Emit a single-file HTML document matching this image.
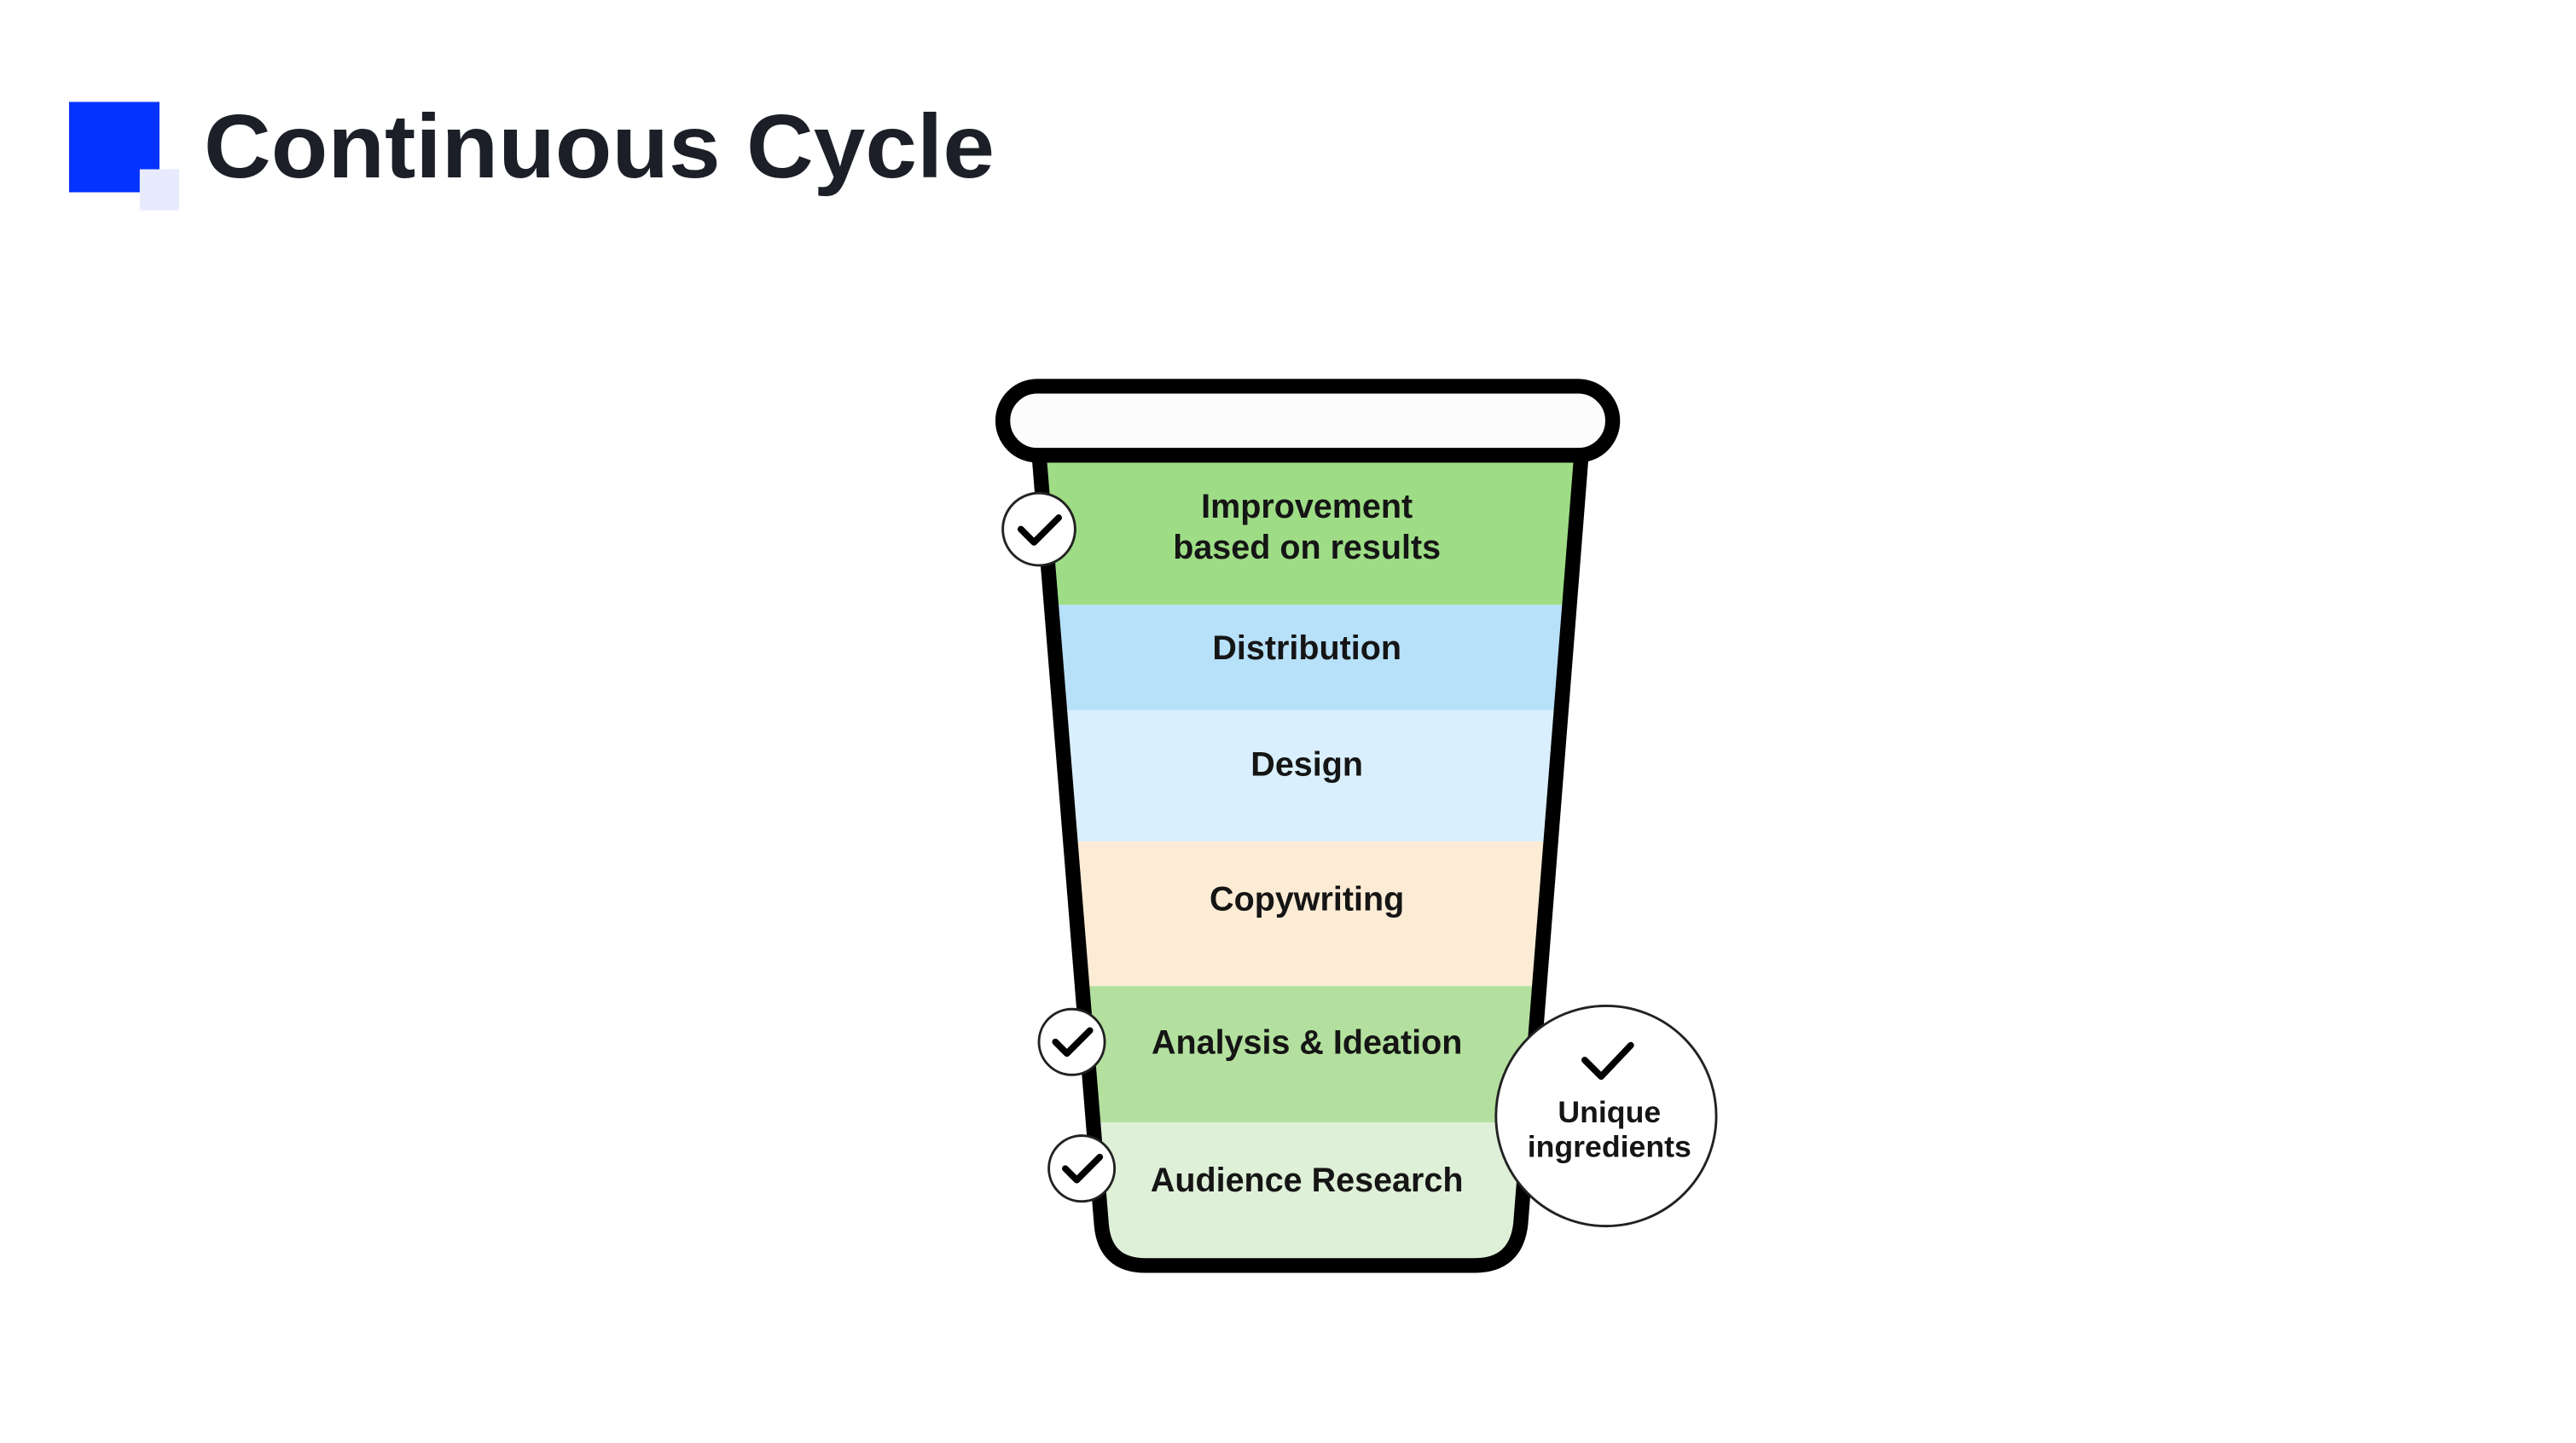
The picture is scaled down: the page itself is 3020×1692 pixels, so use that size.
<!DOCTYPE html>
<html><head><meta charset="utf-8"><style>
html,body{margin:0;padding:0;background:#fff;}
svg{display:block;}
text{font-family:"Liberation Sans",sans-serif;font-weight:bold;fill:#151515;}
</style></head><body>
<svg width="3020" height="1692" viewBox="0 0 1567 878" preserveAspectRatio="none" xmlns="http://www.w3.org/2000/svg">
<rect width="1567" height="878" fill="#fff"/>
<rect x="42" y="62" width="55" height="55" fill="#0433ff"/>
<rect x="85" y="103" width="24" height="25" fill="#e8eafd"/>
<text x="124" y="108" font-size="55" textLength="481" lengthAdjust="spacingAndGlyphs" style="fill:#1c1f27">Continuous Cycle</text>
<defs>
<clipPath id="cup"><path d="M632,276 L962,276 L925,745 Q922,770 897,770 L697,770 Q672,770 670,745 Z"/></clipPath>
</defs>
<g clip-path="url(#cup)">
<rect x="600" y="270" width="400" height="98" fill="#9edd86"/>
<rect x="600" y="368" width="400" height="64" fill="#b7e0f9"/>
<rect x="600" y="432" width="400" height="80" fill="#d9effd"/>
<rect x="600" y="512" width="400" height="88" fill="#fdecd5"/>
<rect x="600" y="600" width="400" height="83" fill="#b3e09e"/>
<rect x="600" y="683" width="400" height="100" fill="#dff0d8"/>
</g>
<path d="M632,276 L670,745 Q672,770 697,770 L897,770 Q922,770 925,745 L962,276" fill="none" stroke="#000" stroke-width="9" stroke-linejoin="round"/>
<rect x="610" y="235" width="371" height="42" rx="21" fill="#fcfcfc" stroke="#000" stroke-width="9"/>
<g text-anchor="middle" font-size="20.5">
<text x="795" y="315">Improvement</text>
<text x="795" y="340">based on results</text>
<text x="795" y="401">Distribution</text>
<text x="795" y="472">Design</text>
<text x="795" y="554">Copywriting</text>
<text x="795" y="641">Analysis &amp; Ideation</text>
<text x="795" y="725">Audience Research</text>
</g>
<g fill="#fff" stroke="#222" stroke-width="1.5">
<circle cx="632" cy="322" r="22"/>
<circle cx="652" cy="634" r="20"/>
<circle cx="658" cy="711" r="20"/>
<circle cx="977" cy="679" r="67"/>
</g>
<g fill="none" stroke="#000" stroke-width="4" stroke-linecap="round" stroke-linejoin="round">
<path d="M621,322 L629,330 L644,315"/>
<path d="M642,634 L649,641 L663,627"/>
<path d="M648,711 L655,718 L669,704"/>
<path d="M964,645 L974,655 L992,636"/>
</g>
<g text-anchor="middle" font-size="18.5">
<text x="979" y="683">Unique</text>
<text x="979" y="704">ingredients</text>
</g>
</svg>
</body></html>
